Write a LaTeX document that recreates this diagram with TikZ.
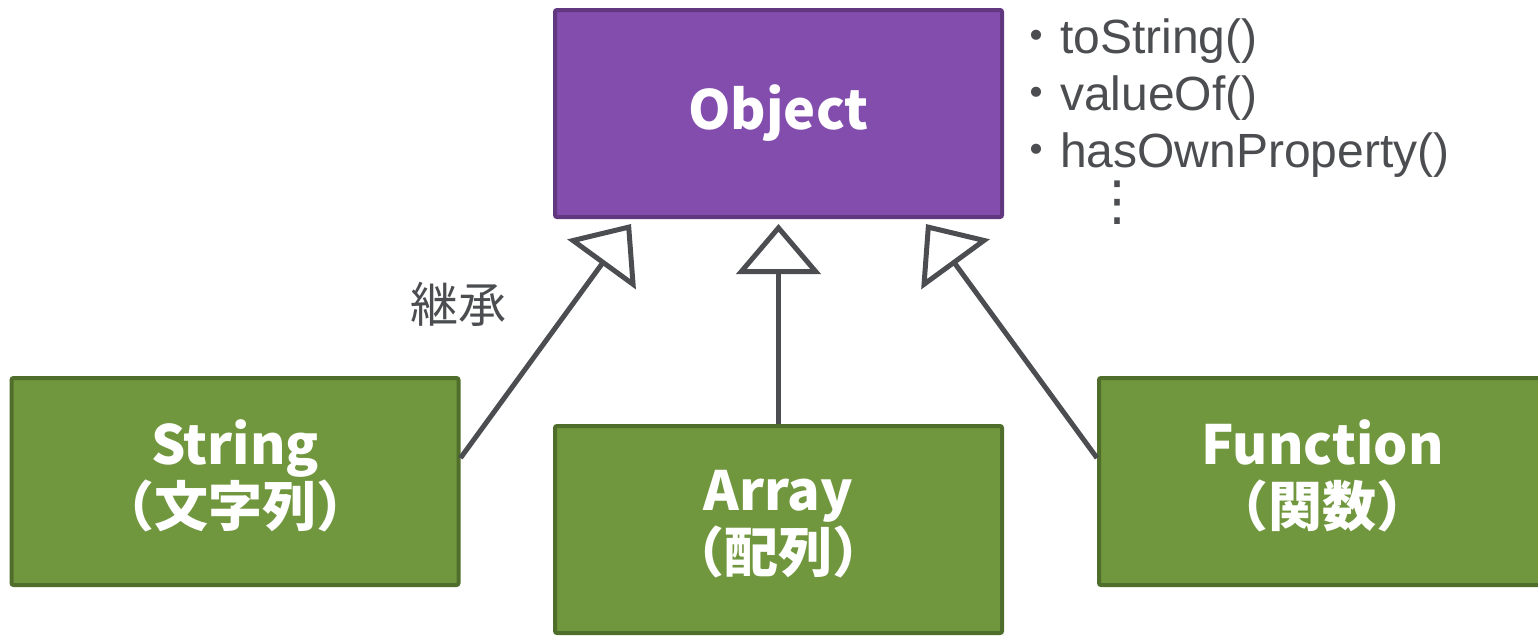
\documentclass[tikz,border=0pt]{standalone}
\usepackage{fontspec}
\usetikzlibrary{arrows.meta}
\newfontfamily\jp{Noto Sans CJK JP}
\newfontfamily\lsans{Liberation Sans}
\newfontfamily\dvs{DejaVu Sans}
\definecolor{objfill}{HTML}{834DAE}
\definecolor{objline}{HTML}{61377F}
\definecolor{subfill}{HTML}{71973E}
\definecolor{subline}{HTML}{506E2B}
\definecolor{ink}{HTML}{4B4D51}
\tikzset{
  classbox/.style={rectangle, rounded corners=2pt, line width=4pt,
    minimum width=447pt, minimum height=207pt, inner sep=0pt,
    text=white, align=center,
    font=\jp\bfseries\fontsize{54}{62}\selectfont},
  parent/.style={classbox, fill=objfill, draw=objline},
  child/.style={classbox, fill=subfill, draw=subline},
  classname/.style={inner sep=0pt, text=white, align=center,
    font=\jp\bfseries\fontsize{54}{62}\selectfont},
  inherit/.style={draw=ink, line width=5pt,
    -{Triangle[open, length=50pt, width=84pt, line join=miter]}},
  member/.style={anchor=base west, inner sep=0pt, text=ink,
    font=\lsans\fontsize{48}{57}\selectfont},
  note/.style={inner sep=0pt, text=ink, font=\jp\fontsize{48}{50}\selectfont}
}
\begin{document}
\begin{tikzpicture}[x=1pt, y=-1pt]
\useasboundingbox (0,0) rectangle (1538,635);

% class boxes
\node[parent] (O) at (778.5,113.5) {Object};
\node[child] (S) at (235,481.5) {};
\node[child] (A) at (778.5,529.5) {};
\node[child] (F) at (1322.5,481.5) {};
\node[classname] (S-name) at ([yshift=6pt]S.center) {String\\（文字列）};
\node[classname] (A-name) at ([yshift=5pt]A.center) {Array\\（配列）};
\node[classname] (F-name) at ([yshift=6pt]F.center) {Function\\（関数）};

% member list of Object
\node[member] (m1) at (1012,53) {{\jp ・}toString()};
\node[member] (m2) at (1012,110) {{\jp ・}valueOf()};
\node[member] (m3) at (1012,167) {{\jp ・}hasOwnProperty()};
\node[inner sep=0pt, text=ink, font=\dvs\fontsize{54}{54}\selectfont] (more) at (1117,203) {⋮};

% inheritance arrows
\coordinate (tipL) at (631,224);
\coordinate (tipM) at (778.5,224);
\coordinate (tipR) at (926,224);
\draw[inherit] ([yshift=23.5pt]S.east) -- (tipL);
\draw[inherit] (A.north) -- (tipM);
\draw[inherit] ([yshift=23.5pt]F.west) -- (tipR);

\node[note] (lbl) at (458,304) {継承};
\end{tikzpicture}
\end{document}
